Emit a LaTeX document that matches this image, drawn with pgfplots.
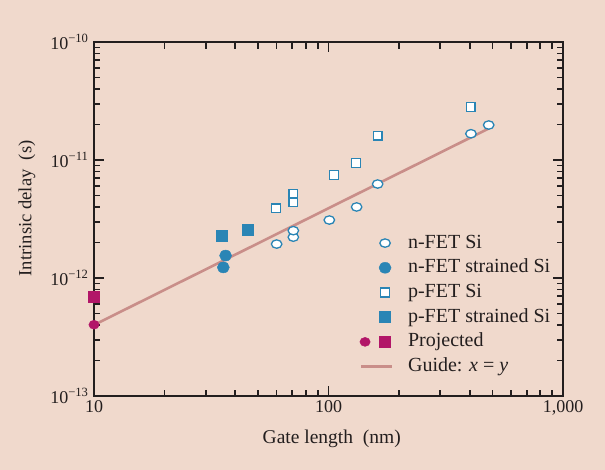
\documentclass[border=0pt]{standalone}
\usepackage{fontspec}
\setmainfont{Liberation Serif}
\usepackage{pgfplots}
\pgfplotsset{compat=1.18}
\definecolor{bg}{RGB}{240,217,204}
\definecolor{fetblue}{RGB}{42,133,181}
\definecolor{projmag}{RGB}{178,22,104}
\definecolor{guide}{RGB}{201,142,137}
\definecolor{axdark}{RGB}{35,30,30}
\newcommand{\lbb}{\path[use as bounding box, draw=none, fill=none] (0pt,-5pt) rectangle (31pt,5pt);}
\begin{document}
\begin{tikzpicture}
\fill[bg] (-94pt,-74pt) rectangle (511pt,396pt);
\begin{axis}[
  scale only axis,
  width=469pt, height=354pt,
  xmode=log, ymode=log,
  xmin=10, xmax=1000, ymin=1e-13, ymax=1e-10,
  axis line style={line width=2.8pt, draw=axdark},
  tick style={line width=1.8pt, draw=axdark},
  major tick length=10pt, minor tick length=6.5pt,
  xtick={10,100,1000},
  xticklabels={10,100,{1,000}},
  ytick={1e-13,1e-12,1e-11,1e-10},
  yticklabels={10\textsuperscript{−13},10\textsuperscript{−12},10\textsuperscript{−11},10\textsuperscript{−10}},
  ticklabel style={font=\fontsize{18}{18}\selectfont, color=axdark},
  yticklabel style={xshift=-2pt},
  xticklabel style={yshift=-1pt},
  xlabel={Gate length\ \ (nm)},
  ylabel={Intrinsic delay\ \ (s)},
  every axis x label/.style={at={(axis description cs:0.507,0)}, anchor=north, yshift=-34pt, inner sep=0pt, font=\fontsize{19.5}{20}\selectfont, color=axdark},
  every axis y label/.style={at={(axis description cs:-0.1429,0.53)}, anchor=center, rotate=90, inner sep=0pt, font=\fontsize{18.6}{19}\selectfont, color=axdark},
  legend style={at={(axis description cs:0.569,0.458)}, anchor=north west, draw=none, fill=none, inner sep=0pt,
    font=\fontsize{20}{20}\selectfont, text=axdark,
    nodes={inner sep=0pt, text height=14pt, text depth=4pt},
    row sep=6.7pt,
    /tikz/every odd column/.append style={column sep=16pt}},
  legend cell align=left,
]
% n-FET Si
\addplot[only marks, mark=*, mark size=4.2pt, mark options={xscale=1.25, draw=fetblue, fill=white, line width=1.3pt},
  legend image code/.code={\lbb \draw[mark options={xscale=1.25, draw=fetblue, fill=white, line width=1.3pt}] plot[mark=*, mark size=4.2pt] coordinates {(24pt,0pt)};}]
coordinates {(60.1,1.94e-12) (70.8,2.22e-12) (70.8,2.52e-12) (100.8,3.1e-12) (131.8,4.0e-12) (162,6.26e-12) (405,1.67e-11) (482,1.98e-11)};
\addlegendentry{n-FET Si}
% n-FET strained Si
\addplot[only marks, mark=*, mark size=5.5pt, mark options={xscale=1.1, draw=fetblue, fill=fetblue},
  legend image code/.code={\lbb \draw[mark options={xscale=1.1, draw=fetblue, fill=fetblue}] plot[mark=*, mark size=5.5pt] coordinates {(24pt,0pt)};}]
coordinates {(36.4,1.55e-12) (35.6,1.23e-12)};
\addlegendentry{n-FET strained Si}
% p-FET Si
\addplot[only marks, mark=square*, mark size=4.4pt, mark options={draw=fetblue, fill=white, line width=1.3pt},
  legend image code/.code={\lbb \draw[mark options={draw=fetblue, fill=white, line width=1.3pt}] plot[mark=square*, mark size=4.4pt] coordinates {(24pt,0pt)};}]
coordinates {(59.7,3.9e-12) (70.8,4.38e-12) (70.8,5.18e-12) (105.4,7.46e-12) (131,9.44e-12) (162,1.61e-11) (404,2.81e-11)};
\addlegendentry{p-FET Si}
% p-FET strained Si
\addplot[only marks, mark=square*, mark size=5.5pt, mark options={draw=fetblue, fill=fetblue},
  legend image code/.code={\lbb \draw[mark options={draw=fetblue, fill=fetblue}] plot[mark=square*, mark size=5.5pt] coordinates {(24pt,0pt)};}]
coordinates {(34.9,2.30e-12) (45.1,2.59e-12)};
\addlegendentry{p-FET strained Si}
% guide line
\addplot[guide, line width=2.6pt, forget plot] coordinates {(10,4.0e-13) (485,1.86e-11)};
% Projected circle
\addplot[only marks, mark=*, mark size=4.5pt, mark options={xscale=1.15, draw=projmag, fill=projmag}, forget plot]
coordinates {(10,4.02e-13)};
% Projected square
\addplot[only marks, mark=square*, mark size=5.5pt, mark options={draw=projmag, fill=projmag},
  legend image code/.code={\lbb
    \draw[mark options={xscale=1.15, draw=projmag, fill=projmag}] plot[mark=*, mark size=4.5pt] coordinates {(4pt,0pt)};
    \draw[mark options={draw=projmag, fill=projmag}] plot[mark=square*, mark size=5.5pt] coordinates {(24pt,0pt)};}]
coordinates {(10,6.95e-13)};
\addlegendentry{Projected}
% legend entry for guide
\addlegendimage{guide, line width=2.6pt, legend image code/.code={\lbb \draw[guide, line width=2.6pt] (0pt,0pt) -- (31pt,0pt);}}
\addlegendentry{Guide: \textit{x} = \textit{y}}
\end{axis}
\end{tikzpicture}
\end{document}
